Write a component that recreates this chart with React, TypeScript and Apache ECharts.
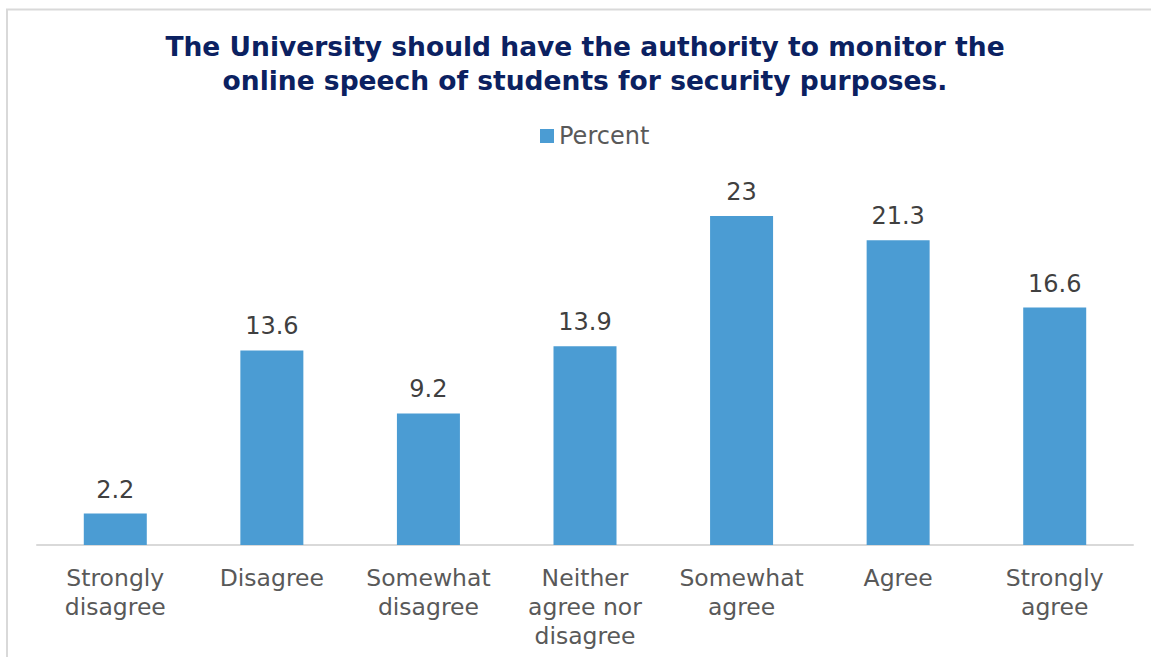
import React, { useEffect, useRef } from "react";
import * as echarts from "echarts";

const categories = [
  "Strongly\ndisagree",
  "Disagree",
  "Somewhat\ndisagree",
  "Neither\nagree nor\ndisagree",
  "Somewhat\nagree",
  "Agree",
  "Strongly\nagree",
];
const percentValues = [2.2, 13.6, 9.2, 13.9, 23, 21.3, 16.6];
const titleText =
  "The University should have the authority to monitor the\nonline speech of students for security purposes.";
const seriesName = "Percent";

const FONT = "'DejaVu Sans', Verdana, sans-serif";

export default function App() {
  const ref = useRef<HTMLDivElement>(null);
  useEffect(() => {
    if (!ref.current) return;
    const chart = echarts.init(ref.current, undefined, { renderer: "svg" });
    chart.setOption({
      animation: false,
      backgroundColor: "#ffffff",
      legend: {
        data: [seriesName],
        top: 119,
        left: 535,
        itemWidth: 14,
        itemHeight: 14,
        itemGap: 6,
        icon: "rect",
        textStyle: { fontFamily: FONT, fontSize: 24, color: "#595959" },
      },
      graphic: [
        {
          type: "rect",
          shape: { x: 7, y: 9.5, width: 1300, height: 800 },
          style: { fill: "none", stroke: "#d9d9d9", lineWidth: 2 },
          silent: true,
        },
        {
          type: "text",
          x: 585,
          y: 29,
          silent: true,
          style: {
            text: titleText,
            align: "center",
            verticalAlign: "top",
            fontFamily: FONT,
            fontSize: 26.5,
            fontWeight: "bold",
            fill: "#0b2161",
            lineHeight: 34,
          },
        },
      ],
      grid: { left: 37, right: 18, top: 187.4, bottom: 112, containLabel: false },
      xAxis: {
        type: "category",
        data: categories,
        axisLine: { lineStyle: { color: "#d9d9d9", width: 2 } },
        axisTick: { show: false },
        axisLabel: {
          fontFamily: FONT,
          fontSize: 23.5,
          color: "#595959",
          lineHeight: 29,
          margin: 18,
          interval: 0,
        },
      },
      yAxis: {
        type: "value",
        min: 0,
        max: 25,
        show: false,
        splitLine: { show: false },
      },
      series: [
        {
          name: seriesName,
          type: "bar",
          data: percentValues,
          barWidth: 63,
          itemStyle: { color: "#4b9cd3" },
          label: {
            show: true,
            position: "top",
            distance: 12,
            fontFamily: FONT,
            fontSize: 24,
            color: "#404040",
          },
        },
      ],
    });
    return () => chart.dispose();
  }, []);
  return (
    <div
      ref={ref}
      style={{ position: "absolute", left: 0, top: 0, width: 1151, height: 657 }}
    />
  );
}
